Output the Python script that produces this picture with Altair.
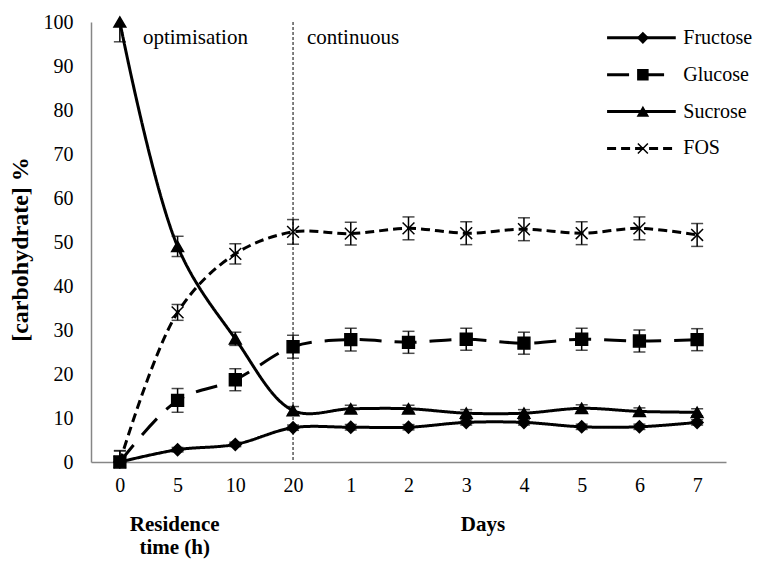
import json
import altair as alt
import pandas as pd

# x positions: residence time (h) during optimisation, then days of continuous run
x_labels = ["0", "5", "10", "20", "1", "2", "3", "4", "5", "6", "7"]

series_names = ["Fructose", "Glucose", "Sucrose", "FOS"]

fructose = [0.0, 2.8, 4.0, 7.8, 7.9, 7.9, 9.0, 9.0, 8.0, 8.0, 9.0]
fructose_err = [0.5, 0.5, 0.5, 0.6, 0.6, 0.6, 0.6, 0.6, 0.6, 0.6, 0.6]

glucose = [0.0, 14.0, 18.7, 26.2, 27.8, 27.2, 27.9, 27.0, 27.9, 27.5, 27.8]
glucose_err = [2.5, 2.7, 2.5, 2.6, 2.6, 2.5, 2.5, 2.5, 2.5, 2.5, 2.5]

sucrose = [100.0, 49.0, 28.0, 11.7, 12.1, 12.1, 11.1, 11.1, 12.2, 11.5, 11.3]
sucrose_err = [4.5, 2.3, 1.5, 0.9, 0.8, 0.8, 0.8, 0.8, 0.8, 0.8, 0.8]

fos = [0.0, 34.0, 47.3, 52.3, 51.9, 53.1, 52.0, 52.9, 52.0, 53.1, 51.6]
fos_err = [2.6, 1.8, 2.3, 2.8, 2.6, 2.6, 2.6, 2.6, 2.6, 2.6, 2.6]

values = {"Fructose": (fructose, fructose_err), "Glucose": (glucose, glucose_err),
          "Sucrose": (sucrose, sucrose_err), "FOS": (fos, fos_err)}

rows = []
for name in series_names:
    vals, errs = values[name]
    for i, (v, e) in enumerate(zip(vals, errs)):
        rows.append({"series": name, "idx": i, "value": v, "lo": v - e, "hi": v + e})
df = pd.DataFrame(rows)

FONT = "Liberation Serif"
X_SCALE = alt.Scale(domain=[-0.5, 10.5], nice=False, zero=False)
Y_SCALE = alt.Scale(domain=[0, 100], nice=False, zero=False)

dash_scale = alt.Scale(domain=series_names, range=[[1, 0], [22, 13], [1, 0], [9, 5]])
shape_scale = alt.Scale(domain=series_names,
                        range=["diamond", "square", "triangle-up", "M-1,-1L1,1M-1,1L1,-1"])

label_expr = f"{json.dumps(x_labels)}[datum.value]"

x_enc = alt.X("idx:Q", scale=X_SCALE,
              axis=alt.Axis(values=list(range(len(x_labels))), labelExpr=label_expr,
                            title=None, ticks=False, grid=False, labelPadding=13,
                            labelFont=FONT, labelFontSize=20, labelColor="black",
                            domainColor="#868686", domainWidth=1.5))
y_enc = alt.Y("value:Q", scale=Y_SCALE,
              axis=alt.Axis(values=list(range(0, 101, 10)), title="[carbohydrate] %",
                            ticks=False, grid=False, labelPadding=18, titlePadding=11,
                            titleY=227,
                            labelFont=FONT, labelFontSize=20, labelColor="black",
                            titleFont=FONT, titleFontSize=24, titleFontWeight="bold",
                            titleColor="black",
                            domainColor="#868686", domainWidth=1.5))

base = alt.Chart(df)

# dotted divider between the optimisation and continuous phases
divider = alt.Chart(pd.DataFrame({"idx": [3]})).mark_rule(
    color="black", strokeWidth=1, strokeDash=[3, 2]
).encode(x=alt.X("idx:Q", scale=X_SCALE))

err_rule = base.mark_rule(color="black", strokeWidth=1.5, clip=True).encode(
    x=x_enc, y=alt.Y("lo:Q", scale=Y_SCALE), y2="hi:Q")

caps = base.transform_fold(["lo", "hi"], as_=["end", "cap"]).mark_tick(
    orient="horizontal", size=12, thickness=1.5, color="black", clip=True
).encode(x=alt.X("idx:Q", scale=X_SCALE), y=alt.Y("cap:Q", scale=Y_SCALE))

lines = base.mark_line(interpolate="catmull-rom", strokeWidth=3, color="black").encode(
    x=x_enc, y=y_enc,
    strokeDash=alt.StrokeDash("series:N", scale=dash_scale, legend=None),
    detail="series:N")

points = base.mark_point(fill="black", stroke="black", strokeWidth=1.5, opacity=1,
                         size=140).encode(
    x=alt.X("idx:Q", scale=X_SCALE), y=alt.Y("value:Q", scale=Y_SCALE),
    shape=alt.Shape("series:N", scale=shape_scale, legend=None))

# phase annotations
notes = pd.DataFrame({"text": ["optimisation", "continuous"], "idx": [0.4, 3.24]})
phase_text = alt.Chart(notes).mark_text(
    font=FONT, fontSize=21, align="left", baseline="middle", color="black"
).encode(x=alt.X("idx:Q", scale=X_SCALE), y=alt.value(16), text="text:N")

# x-axis group titles
groups = pd.DataFrame({"text": ["Residence\ntime (h)", "Days"], "idx": [0.95, 6.29]})
group_text = alt.Chart(groups).mark_text(
    font=FONT, fontSize=21, fontWeight="bold", align="center", baseline="middle",
    lineBreak="\n", lineHeight=23, color="black"
).encode(x=alt.X("idx:Q", scale=X_SCALE), y=alt.value(503), text="text:N")

# legend drawn as its own layer: line sample, marker and label per series
leg = pd.DataFrame({"series": series_names, "row": list(range(len(series_names)))})
leg_base = alt.Chart(leg).transform_calculate(ly="96.4 - 8.38 * datum.row")
leg_line = leg_base.transform_calculate(x1="8.44", x2="9.63").mark_rule(
    color="black", strokeWidth=3
).encode(x=alt.X("x1:Q", scale=X_SCALE), x2="x2:Q", y=alt.Y("ly:Q", scale=Y_SCALE),
         strokeDash=alt.StrokeDash("series:N", scale=dash_scale, legend=None))
leg_pt = leg_base.transform_calculate(xm="9.06").mark_point(
    fill="black", stroke="black", strokeWidth=1.5, opacity=1, size=100
).encode(x=alt.X("xm:Q", scale=X_SCALE), y=alt.Y("ly:Q", scale=Y_SCALE),
         shape=alt.Shape("series:N", scale=shape_scale, legend=None))
leg_txt = leg_base.transform_calculate(xt="9.76").mark_text(
    font=FONT, fontSize=20, align="left", baseline="middle", color="black"
).encode(x=alt.X("xt:Q", scale=X_SCALE), y=alt.Y("ly:Q", scale=Y_SCALE), text="series:N")

chart = alt.layer(
    divider, err_rule, caps, lines, points, phase_text, group_text, leg_line, leg_pt, leg_txt
).properties(
    width=635, height=440,
    autosize=alt.AutoSizeParams(type="none"),
    padding={"left": 91, "top": 22, "right": 32, "bottom": 100},
    background="white",
).configure_view(stroke=None)

chart.save("out.html", embed_options={"renderer": "svg", "actions": False})
